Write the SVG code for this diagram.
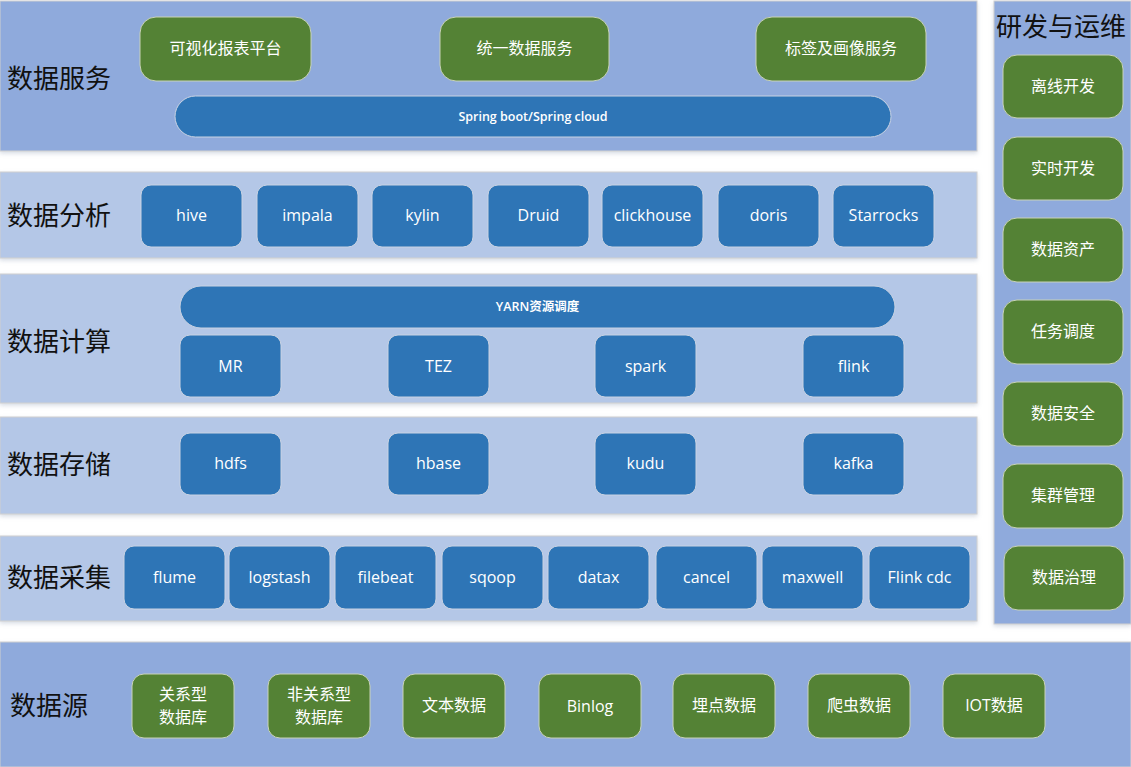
<svg xmlns="http://www.w3.org/2000/svg" width="1131" height="767" viewBox="0 0 1131 767">
<defs>
<filter id="sh" x="-5%" y="-5%" width="110%" height="120%"><feDropShadow dx="0" dy="2" stdDeviation="2" flood-color="#8a9ab5" flood-opacity="0.35"/></filter>
</defs>
<style>
.band1{fill:#8FAADC;stroke:#D0D0D0;stroke-width:1}
.band2{fill:#B4C7E7;stroke:#D0D0D0;stroke-width:1}
.blue{fill:#2E75B6;stroke:#C9D3E3;stroke-width:1}
.green{fill:#548235;stroke:#C9D3B8;stroke-width:1}
.lbl{font-family:"Noto Sans CJK SC",sans-serif;font-size:26px;fill:#111}
.t{font-family:"Open Sans","Noto Sans CJK SC",sans-serif;font-size:16px;fill:#fff;text-anchor:middle;dominant-baseline:central}
.ts{font-family:"Open Sans","Noto Sans CJK SC",sans-serif;font-size:12.5px;font-weight:600;fill:#fff;text-anchor:middle;dominant-baseline:central}
</style>
<rect width="1131" height="767" fill="#fff"/>
<g id="bands" filter="url(#sh)">
<rect class="band1" x="0" y="1" width="977" height="150"/>
<rect class="band2" x="0" y="172" width="977" height="86"/>
<rect class="band2" x="0" y="274" width="977" height="129"/>
<rect class="band2" x="0" y="417" width="977" height="97"/>
<rect class="band2" x="0" y="536" width="977" height="85"/>
<rect class="band1" x="0" y="642" width="1131" height="125"/>
<rect class="band1" x="994" y="1" width="137" height="623"/>
</g>
<g id="labels">
<text class="lbl" x="7" y="88">数据服务</text>
<text class="lbl" x="7" y="225">数据分析</text>
<text class="lbl" x="7" y="351">数据计算</text>
<text class="lbl" x="7" y="474">数据存储</text>
<text class="lbl" x="7" y="587">数据采集</text>
<text class="lbl" x="10" y="715">数据源</text>
<text class="lbl" x="996" y="36">研发与运维</text>
</g>
<g id="service">
<g id="n-vis"><rect class="green" x="140" y="17" width="171" height="64" rx="16"/><text class="t" x="225.5" y="48">可视化报表平台</text></g>
<g id="n-unify"><rect class="green" x="440" y="17" width="169" height="64" rx="16"/><text class="t" x="524.5" y="48">统一数据服务</text></g>
<g id="n-tag"><rect class="green" x="756" y="17" width="170" height="64" rx="16"/><text class="t" x="841" y="48">标签及画像服务</text></g>
<g id="n-spring"><rect class="blue" x="175" y="96" width="716" height="41" rx="20.5"/><text class="ts" x="533" y="116">Spring boot/Spring cloud</text></g>
</g>
<g id="analysis">
<g id="n-hive"><rect class="blue" x="141" y="185" width="101" height="62" rx="10"/><text class="t" x="191.5" y="215">hive</text></g>
<g id="n-impala"><rect class="blue" x="257" y="185" width="101" height="62" rx="10"/><text class="t" x="307.5" y="215">impala</text></g>
<g id="n-kylin"><rect class="blue" x="372" y="185" width="101" height="62" rx="10"/><text class="t" x="422.5" y="215">kylin</text></g>
<g id="n-druid"><rect class="blue" x="488" y="185" width="101" height="62" rx="10"/><text class="t" x="538.5" y="215">Druid</text></g>
<g id="n-ch"><rect class="blue" x="602" y="185" width="101" height="62" rx="10"/><text class="t" x="652.5" y="215">clickhouse</text></g>
<g id="n-doris"><rect class="blue" x="718" y="185" width="101" height="62" rx="10"/><text class="t" x="768.5" y="215">doris</text></g>
<g id="n-sr"><rect class="blue" x="833" y="185" width="101" height="62" rx="10"/><text class="t" x="883.5" y="215">Starrocks</text></g>
</g>
<g id="compute">
<g id="n-yarn"><rect class="blue" x="180" y="286" width="715" height="42" rx="21"/><text class="ts" x="537.5" y="306">YARN资源调度</text></g>
<g id="n-mr"><rect class="blue" x="180" y="335" width="101" height="62" rx="10"/><text class="t" x="230.5" y="366">MR</text></g>
<g id="n-tez"><rect class="blue" x="388" y="335" width="101" height="62" rx="10"/><text class="t" x="438.5" y="366">TEZ</text></g>
<g id="n-spark"><rect class="blue" x="595" y="335" width="101" height="62" rx="10"/><text class="t" x="645.5" y="366">spark</text></g>
<g id="n-flink"><rect class="blue" x="803" y="335" width="101" height="62" rx="10"/><text class="t" x="853.5" y="366">flink</text></g>
</g>
<g id="storage">
<g id="n-hdfs"><rect class="blue" x="180" y="433" width="101" height="62" rx="10"/><text class="t" x="230.5" y="463">hdfs</text></g>
<g id="n-hbase"><rect class="blue" x="388" y="433" width="101" height="62" rx="10"/><text class="t" x="438.5" y="463">hbase</text></g>
<g id="n-kudu"><rect class="blue" x="595" y="433" width="101" height="62" rx="10"/><text class="t" x="645.5" y="463">kudu</text></g>
<g id="n-kafka"><rect class="blue" x="803" y="433" width="101" height="62" rx="10"/><text class="t" x="853.5" y="463">kafka</text></g>
</g>
<g id="collect">
<g id="n-flume"><rect class="blue" x="124" y="546" width="101" height="63" rx="10"/><text class="t" x="174.5" y="577">flume</text></g>
<g id="n-logstash"><rect class="blue" x="229" y="546" width="101" height="63" rx="10"/><text class="t" x="279.5" y="577">logstash</text></g>
<g id="n-filebeat"><rect class="blue" x="335" y="546" width="101" height="63" rx="10"/><text class="t" x="385.5" y="577">filebeat</text></g>
<g id="n-sqoop"><rect class="blue" x="442" y="546" width="101" height="63" rx="10"/><text class="t" x="492.5" y="577">sqoop</text></g>
<g id="n-datax"><rect class="blue" x="548" y="546" width="101" height="63" rx="10"/><text class="t" x="598.5" y="577">datax</text></g>
<g id="n-cancel"><rect class="blue" x="656" y="546" width="101" height="63" rx="10"/><text class="t" x="706.5" y="577">cancel</text></g>
<g id="n-maxwell"><rect class="blue" x="762" y="546" width="101" height="63" rx="10"/><text class="t" x="812.5" y="577">maxwell</text></g>
<g id="n-fcdc"><rect class="blue" x="869" y="546" width="101" height="63" rx="10"/><text class="t" x="919.5" y="577">Flink cdc</text></g>
</g>
<g id="source">
<g id="n-rdb"><rect class="green" x="132" y="674" width="102" height="64" rx="12"/><text class="t" x="183" y="694">关系型</text><text class="t" x="183" y="717">数据库</text></g>
<g id="n-nrdb"><rect class="green" x="268" y="674" width="102" height="64" rx="12"/><text class="t" x="319" y="694">非关系型</text><text class="t" x="319" y="717">数据库</text></g>
<g id="n-text"><rect class="green" x="403" y="674" width="102" height="64" rx="12"/><text class="t" x="454" y="705">文本数据</text></g>
<g id="n-binlog"><rect class="green" x="539" y="674" width="102" height="64" rx="12"/><text class="t" x="590" y="706">Binlog</text></g>
<g id="n-track"><rect class="green" x="673" y="674" width="102" height="64" rx="12"/><text class="t" x="724" y="705">埋点数据</text></g>
<g id="n-crawl"><rect class="green" x="808" y="674" width="102" height="64" rx="12"/><text class="t" x="859" y="705">爬虫数据</text></g>
<g id="n-iot"><rect class="green" x="943" y="674" width="102" height="64" rx="12"/><text class="t" x="994" y="705">IOT数据</text></g>
</g>
<g id="devops">
<g id="n-offline"><rect class="green" x="1003" y="55" width="120" height="63" rx="14"/><text class="t" x="1063" y="86">离线开发</text></g>
<g id="n-rt"><rect class="green" x="1003" y="137" width="120" height="63" rx="14"/><text class="t" x="1063" y="168">实时开发</text></g>
<g id="n-asset"><rect class="green" x="1003" y="218" width="120" height="64" rx="14"/><text class="t" x="1063" y="249">数据资产</text></g>
<g id="n-sched"><rect class="green" x="1003" y="300" width="120" height="64" rx="14"/><text class="t" x="1063" y="331">任务调度</text></g>
<g id="n-sec"><rect class="green" x="1003" y="382" width="120" height="64" rx="14"/><text class="t" x="1063" y="413">数据安全</text></g>
<g id="n-cluster"><rect class="green" x="1003" y="464" width="120" height="64" rx="14"/><text class="t" x="1063" y="495">集群管理</text></g>
<g id="n-gov"><rect class="green" x="1004" y="546" width="120" height="64" rx="14"/><text class="t" x="1064" y="577">数据治理</text></g>
</g>
<g id="connectors"/>
</svg>
